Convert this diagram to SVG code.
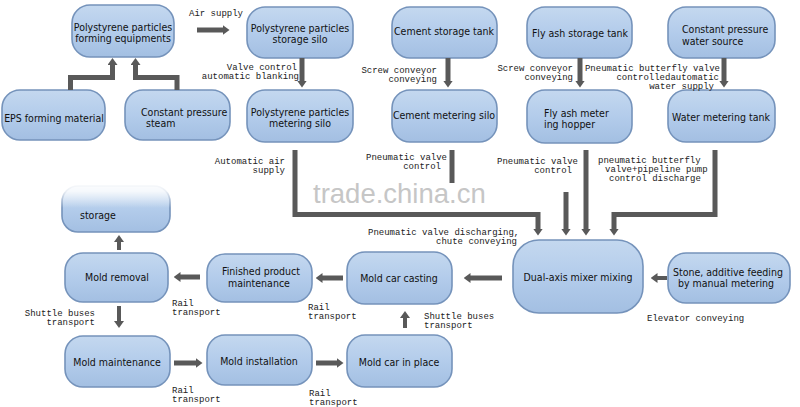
<svg xmlns="http://www.w3.org/2000/svg" width="800" height="407" viewBox="0 0 800 407">
<defs>
<linearGradient id="bf" x1="0" y1="0" x2="0" y2="1">
<stop offset="0" stop-color="#c4d8ef"/>
<stop offset="0.5" stop-color="#b3cceb"/>
<stop offset="1" stop-color="#a3bfe2"/>
</linearGradient>
<linearGradient id="fade" gradientUnits="userSpaceOnUse" x1="0" y1="180" x2="0" y2="208">
<stop offset="0" stop-color="#fff" stop-opacity="1"/>
<stop offset="0.4" stop-color="#fff" stop-opacity="0.85"/>
<stop offset="1" stop-color="#fff" stop-opacity="0"/>
</linearGradient>
<marker id="ah" viewBox="0 0 7 10" markerWidth="7" markerHeight="10" refX="0.5" refY="5" orient="auto" markerUnits="userSpaceOnUse">
<path d="M0,0 L7,5 L0,10 z" fill="#595959"/>
</marker>
</defs>
<style>
.box{fill:url(#bf);stroke:#7593bb;stroke-width:1.6}
.t{font-family:"DejaVu Sans Condensed","Liberation Sans Narrow","DejaVu Sans",sans-serif;font-size:10.5px;fill:#111;text-anchor:middle}
.tl{font-family:"DejaVu Sans Condensed","Liberation Sans Narrow","DejaVu Sans",sans-serif;font-size:10.5px;fill:#111}
.l{font-family:"Liberation Mono","DejaVu Sans Mono",monospace;font-size:9px;fill:#222}
.r{text-anchor:end}
.c{fill:none;stroke:#595959;stroke-width:5;marker-end:url(#ah)}
.cn{fill:none;stroke:#595959;stroke-width:5}
.wm{font-family:"Liberation Sans",Arial,sans-serif;font-size:27.5px;fill:#c6c6c6}
</style>
<rect width="800" height="407" fill="#fff"/>

<text class="wm" x="313" y="203">trade.china.cn</text>

<g id="n1"><rect class="box" x="72" y="5" width="102" height="52" rx="18"/>
<text class="t" x="123" y="31">Polystyrene particles</text><text class="t" x="123" y="42">forming equipments</text></g>
<g id="n2"><rect class="box" x="247" y="7" width="106" height="51" rx="18"/>
<text class="t" x="300" y="32">Polystyrene particles</text><text class="t" x="300" y="43">storage silo</text></g>
<g id="n3"><rect class="box" x="247" y="90" width="106" height="52" rx="18"/>
<text class="t" x="300" y="116">Polystyrene particles</text><text class="t" x="300" y="127">metering silo</text></g>
<g id="n4"><rect class="box" x="2" y="90" width="103" height="50" rx="18"/>
<text class="t" x="54" y="122">EPS forming material</text></g>
<g id="n5"><rect class="box" x="125" y="90" width="105" height="50" rx="18"/>
<text class="tl" x="141" y="116">Constant pressure</text><text class="tl" x="146" y="127">steam</text></g>
<g id="n6"><rect class="box" x="392" y="7" width="105" height="51" rx="18"/>
<text class="t" x="444" y="35">Cement storage tank</text></g>
<g id="n7"><rect class="box" x="392" y="90" width="105" height="52" rx="18"/>
<text class="t" x="444" y="119">Cement metering silo</text></g>
<g id="n8"><rect class="box" x="527" y="7" width="105" height="51" rx="18"/>
<text class="t" x="580" y="37">Fly ash storage tank</text></g>
<g id="n9"><rect class="box" x="527" y="90" width="105" height="53" rx="18"/>
<text class="tl" x="544" y="117">Fly ash meter</text><text class="tl" x="544" y="128">ing hopper</text></g>
<g id="n10"><rect class="box" x="668" y="7" width="107" height="51" rx="18"/>
<text class="tl" x="682" y="33">Constant pressure</text><text class="tl" x="682" y="45">water source</text></g>
<g id="n11"><rect class="box" x="668" y="90" width="107" height="52" rx="18"/>
<text class="t" x="721" y="121">Water metering tank</text></g>

<g id="n12"><rect class="box" x="62" y="186" width="108" height="46" rx="16"/>
<rect x="55" y="178" width="122" height="30" fill="url(#fade)"/>
<text class="tl" x="80" y="219">storage</text></g>
<g id="n13"><rect class="box" x="65" y="253" width="103" height="49" rx="18"/>
<text class="t" x="117" y="281">Mold removal</text></g>
<g id="n14"><rect class="box" x="207" y="254" width="105" height="48" rx="18"/>
<text class="tl" x="222" y="275">Finished product</text><text class="tl" x="228" y="287">maintenance</text></g>
<g id="n15"><rect class="box" x="347" y="252" width="105" height="52" rx="18"/>
<text class="t" x="399" y="282">Mold car casting</text></g>
<g id="n16"><rect class="box" x="513" y="240" width="130" height="73" rx="26"/>
<text class="t" x="578" y="281">Dual-axis mixer mixing</text></g>
<g id="n17"><rect class="box" x="668" y="253" width="122" height="50" rx="18"/>
<text class="tl" x="673" y="276">Stone, additive feeding</text><text class="tl" x="678" y="287">by manual metering</text></g>
<g id="n18"><rect class="box" x="65" y="336" width="105" height="51" rx="18"/>
<text class="t" x="117" y="366">Mold maintenance</text></g>
<g id="n19"><rect class="box" x="207" y="335" width="105" height="50" rx="18"/>
<text class="t" x="259" y="365">Mold installation</text></g>
<g id="n20"><rect class="box" x="347" y="335" width="105" height="52" rx="18"/>
<text class="t" x="399" y="366">Mold car in place</text></g>

<g id="connectors">
<path class="c" d="M197,30 H223"/>
<path class="c" d="M302,58 V81"/>
<path class="c" d="M70.5,90 V77.5 H112.5 V64.5"/>
<path class="c" d="M177,90 V77.5 H135.5 V64.5"/>
<path class="c" d="M448,58 V81"/>
<path class="c" d="M580,58 V81"/>
<path class="c" d="M724,58 V81"/>
<path class="c" d="M295,150 V214.5 H538 V229"/>
<path class="cn" d="M452,150 V183"/>
<path class="c" d="M566,192 V229"/>
<path class="c" d="M586,150 V229"/>
<path class="c" d="M715,150 V214.5 H614 V229"/>
<path class="c" d="M667,278 H657" style="stroke-width:4"/>
<path class="c" d="M502,278 H470"/>
<path class="c" d="M343,278 H322"/>
<path class="c" d="M200,277 H180"/>
<path class="c" d="M119,250 V241.5" style="stroke-width:4"/>
<path class="c" d="M119,306 V321.5" style="stroke-width:4"/>
<path class="c" d="M174,363 H196"/>
<path class="c" d="M316,363 H337"/>
<path class="c" d="M405,328 V317.5" style="stroke-width:4"/>
</g>

<g id="labels">
<text class="l" x="189" y="16">Air supply</text>
<text class="l r" x="297" y="69.5">Valve control</text>
<text class="l r" x="299" y="78.5">automatic blanking</text>
<text class="l r" x="437" y="72.5">Screw conveyor</text>
<text class="l r" x="437" y="81.5">conveying</text>
<text class="l r" x="573" y="70.5">Screw conveyor</text>
<text class="l r" x="573" y="79.5">conveying</text>
<text class="l r" x="720" y="70.5">Pneumatic butterfly valve</text>
<text class="l r" x="719" y="79.5">controlledautomatic</text>
<text class="l r" x="714" y="88.5">water supply</text>
<text class="l r" x="285" y="163.5">Automatic air</text>
<text class="l r" x="285" y="172.5">supply</text>
<text class="l r" x="447" y="159.5">Pneumatic valve</text>
<text class="l r" x="441" y="168.5">control</text>
<text class="l r" x="578" y="163.5">Pneumatic valve</text>
<text class="l r" x="572" y="172.5">control</text>
<text class="l" x="598" y="162.5">pneumatic butterfly</text>
<text class="l" x="605" y="171.5">valve+pipeline pump</text>
<text class="l" x="609" y="180.5">control discharge</text>
<text class="l" x="368" y="234.5">Pneumatic valve discharging,</text>
<text class="l r" x="517" y="243.5">chute conveying</text>
<text class="l" x="172" y="306">Rail</text>
<text class="l" x="172" y="315">transport</text>
<text class="l" x="308" y="310">Rail</text>
<text class="l" x="308" y="319">transport</text>
<text class="l" x="647" y="321">Elevator conveying</text>
<text class="l r" x="95" y="315.5">Shuttle buses</text>
<text class="l r" x="95" y="324.5">transport</text>
<text class="l" x="424" y="318.5">Shuttle buses</text>
<text class="l" x="424" y="327.5">transport</text>
<text class="l" x="172" y="393">Rail</text>
<text class="l" x="172" y="402">transport</text>
<text class="l" x="309" y="396">Rail</text>
<text class="l" x="309" y="405">transport</text>
</g>
</svg>
